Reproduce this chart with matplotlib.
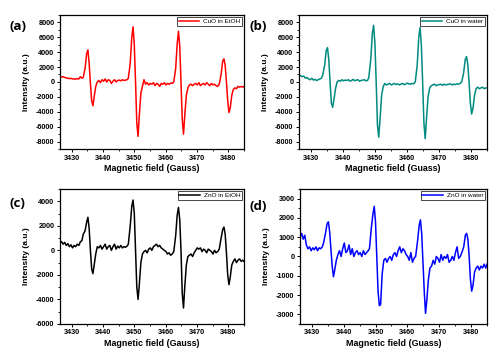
import matplotlib
matplotlib.use("Agg")
import matplotlib.pyplot as plt
from matplotlib.ticker import MultipleLocator, AutoMinorLocator

plt.rcParams['font.family'] = ['Liberation Sans', 'DejaVu Sans']
plt.rcParams['axes.unicode_minus'] = False

field = [
    3426.3, 3426.8, 3427.3, 3427.8, 3428.3, 3428.8, 3429.3, 3429.8, 3430.3, 3430.8, 3431.3, 3431.8, 3432.3, 3432.8, 3433.3,
    3433.7, 3434.3, 3434.8, 3435.2, 3435.6, 3436.0, 3436.4, 3436.8, 3437.2, 3437.7, 3438.2,
    3438.7, 3439.2, 3439.7, 3440.2, 3440.7, 3441.2, 3441.7, 3442.2, 3442.7, 3443.2, 3443.7, 3444.2, 3444.7, 3445.2, 3445.7, 3446.2, 3446.7, 3447.2, 3447.7,
    3448.1, 3448.7, 3449.2, 3449.6, 3450.0, 3450.4, 3450.8, 3451.2, 3451.6, 3452.1, 3452.6,
    3453.1, 3453.6, 3454.1, 3454.6, 3455.1, 3455.6, 3456.1, 3456.6, 3457.1, 3457.6, 3458.1, 3458.6, 3459.1, 3459.6, 3460.1, 3460.6, 3461.1, 3461.6, 3462.1,
    3462.6, 3463.2, 3463.7, 3464.1, 3464.5, 3464.9, 3465.3, 3465.7, 3466.1, 3466.6, 3467.1,
    3467.6, 3468.1, 3468.6, 3469.1, 3469.6, 3470.1, 3470.6, 3471.1, 3471.6, 3472.1, 3472.6, 3473.1, 3473.6, 3474.1, 3474.6, 3475.1, 3475.6, 3476.1, 3476.6,
    3477.1, 3477.7, 3478.2, 3478.6, 3479.0, 3479.4, 3479.8, 3480.2, 3480.6, 3481.1, 3481.6,
    3482.1, 3482.6, 3483.1, 3483.6, 3484.1, 3484.6, 3485.0,
]

cuo_etoh = [
    700, 650, 720, 600, 550, 500, 450, 480, 400, 420, 380, 450, 400, 700, 500,
    600, 1800, 3800, 4300, 2500, -200, -2500, -3200, -2000, -600, 0,
    200, -100, 300, 100, 400, 0, 300, 200, -200, 100, 300, 0, 200, 250, 150, 300, 200, 250, 300,
    500, 2500, 6000, 7400, 5000, 0, -5500, -7300, -4500, -1500, -600,
    300, -300, -100, -400, -200, -300, -100, -500, -200, -300, -600, -200, -300, -100, -400, -200, -300, -150, -200,
    0, 1800, 5200, 6800, 4800, 0, -5000, -7000, -4500, -1800, -800,
    -400, -300, -500, -300, -200, -400, -100, -500, -300, -200, -400, -100, -300, -500, -200, -400, -300, -500, -600,
    -300, 1000, 2800, 3100, 2200, 0, -2500, -4100, -3500, -1800, -1000,
    -800, -900, -600, -700, -600, -700, -600,
]

cuo_water = [
    900, 850, 700, 800, 500, 600, 400, 300, 500, 250, 350, 200, 300, 400, 500,
    900, 2200, 4200, 4600, 3000, 0, -2800, -3400, -2400, -900, 0,
    200, 100, 300, 150, 250, 200, 300, 100, 200, 350, 150, 250, 300, 100, 200, 250, 300, 150, 200,
    600, 3000, 6500, 7600, 5200, 0, -5800, -7400, -5000, -1800, -600,
    -200, -400, -300, -200, -400, -300, -200, -350, -250, -400, -300, -200, -350, -300, -150, -250, -300, -200, -250,
    0, 2200, 6000, 7300, 5000, 0, -5500, -7600, -5000, -2000, -800,
    -500, -400, -300, -500, -400, -350, -300, -450, -300, -400, -350, -300, -250, -400, -300, -350, -250, -300, -200,
    0, 1200, 3000, 3400, 2400, 0, -2800, -4300, -3600, -1800, -900,
    -700, -900, -800, -700, -900, -800, -800,
]

zno_etoh = [
    600, 700, 500, 650, 400, 550, 300, 450, 200, 400, 300, 500, 400, 700, 800,
    1300, 1600, 2300, 2700, 1800, 0, -1500, -1900, -1200, -300, 300,
    200, 400, 100, 300, 500, 100, 300, 400, 0, 300, 500, 100, 350, 200, 400, 200, 300, 250, 350,
    500, 2000, 3600, 4100, 3000, 0, -3000, -4000, -2800, -1000, -300,
    -100, 0, -200, 100, 200, 0, 300, 400, 500, 300, 400, 200, 100, 0, -100, -300, -200, -400, -300,
    -100, 1200, 2900, 3500, 2500, 0, -3500, -4700, -3000, -1200, -500,
    -400, -300, -500, -200, 0, 200, 100, 200, -100, 100, 0, -200, 100, 0, -100, -300, 0, -200, -100,
    100, 1000, 1700, 1900, 1300, -200, -2000, -2800, -2200, -1200, -900,
    -700, -1000, -800, -700, -900, -800, -900,
]

zno_water = [
    1000, 1200, 900, 1100, 600, 400, 500, 300, 450, 350, 500, 300, 450, 400, 500,
    700, 1200, 1700, 1800, 1300, 400, -500, -1050, -700, -200, 100,
    300, 0, 400, 700, 200, 300, 600, 100, 400, 0, 200, 300, 100, 200, 0, 300, 100, 200, 300,
    400, 1500, 2200, 2600, 1800, 0, -1800, -2550, -2500, -900, -200,
    -100, -300, -100, 0, -200, 100, 200, 0, 300, 500, 200, 400, 300, 100, 0, -200, 200, -300, -100,
    0, 800, 1600, 1900, 1200, -300, -1800, -2950, -2300, -1200, -600,
    -500, -200, -400, 0, -100, -300, 100, -200, 0, -100, 100, -300, -200, 0, -200, 200, 500, -100, 0,
    200, 500, 1100, 1200, 900, 0, -1200, -1800, -1500, -800, -600,
    -500, -700, -500, -600, -400, -600, -400,
]

panels = [
    dict(pos=[0.120, 0.579, 0.368, 0.379], y=cuo_etoh, color='#ff0000', label='CuO in EtOH',
         ylim=(-9000, 9000), ystep=2000, xlabel='Magnetic field (Gauss)', tag='(a)', tagxy=(0.018, 0.925)),
    dict(pos=[0.598, 0.579, 0.376, 0.379], y=cuo_water, color='#008b80', label='CuO in water',
         ylim=(-9000, 9000), ystep=2000, xlabel='Magnetic field (Guass)', tag='(b)', tagxy=(0.500, 0.925)),
    dict(pos=[0.120, 0.085, 0.368, 0.381], y=zno_etoh, color='#000000', label='ZnO in EtOH',
         ylim=(-6000, 5000), ystep=2000, xlabel='Magnetic field (Gauss)', tag='(c)', tagxy=(0.018, 0.425)),
    dict(pos=[0.600, 0.085, 0.374, 0.381], y=zno_water, color='#0000ff', label='ZnO in water',
         ylim=(-3500, 3500), ystep=1000, xlabel='Magnetic field (Guass)', tag='(d)', tagxy=(0.500, 0.418)),
]

fig = plt.figure(figsize=(5.0, 3.54), dpi=100)
for p in panels:
    ax = fig.add_axes(p['pos'])
    ax.plot(field, p['y'], color=p['color'], lw=1.1, label=p['label'])
    ax.set_xlim(3426.3, 3485.0)
    ax.set_ylim(*p['ylim'])
    ax.xaxis.set_major_locator(MultipleLocator(10))
    ax.xaxis.set_minor_locator(AutoMinorLocator(2))
    ax.yaxis.set_major_locator(MultipleLocator(p['ystep']))
    ax.yaxis.set_minor_locator(AutoMinorLocator(2))
    ax.tick_params(which='major', direction='out', length=2.5, width=0.7, labelsize=5.2, pad=1.5)
    ax.tick_params(which='minor', direction='out', length=1.5, width=0.6)
    for lab in ax.get_xticklabels() + ax.get_yticklabels():
        lab.set_fontweight('bold')
    for s in ax.spines.values():
        s.set_linewidth(0.9)
    ax.set_xlabel(p['xlabel'], fontsize=6.4, fontweight='bold', labelpad=2)
    ax.set_ylabel('Intensity (a.u.)', fontsize=6.0, fontweight='bold', labelpad=4)
    leg = ax.legend(loc='upper right', fontsize=4.6, frameon=True, fancybox=False,
                    edgecolor='black', framealpha=1, handlelength=3.2, handletextpad=0.6,
                    borderpad=0.25, borderaxespad=0.35)
    leg.get_frame().set_linewidth(0.5)
    fig.text(p['tagxy'][0], p['tagxy'][1], p['tag'], fontsize=9.5, fontweight='bold',
             family=['Open Sans', 'DejaVu Sans'], va='center')

fig.savefig('out.png', dpi=100)
